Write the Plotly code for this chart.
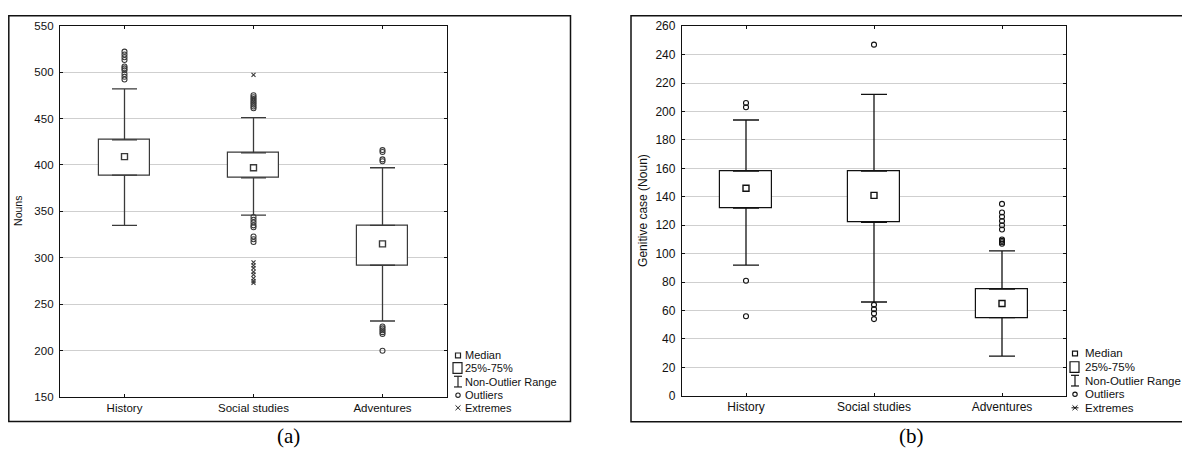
import plotly.graph_objects as go

W, H = 1190, 465
OFF = 8  # page body margin offset of the plot div

categories = ["History", "Social studies", "Adventures"]

# Panel (a): Nouns
a_q1 = [389, 386, 292]
a_median = [409, 397, 315]
a_q3 = [427, 413, 335]
a_low = [335, 346, 232]
a_high = [482, 451, 397]
a_outliers = {
    "History": [492, 495, 498, 502, 504, 506, 513, 516, 519, 522],
    "Social studies": [461, 463, 465, 467, 469, 471, 473, 475,
                       344, 341, 338, 335, 333, 323, 320, 317],
    "Adventures": [404, 406, 414, 416, 218, 220, 222, 224, 226, 200],
}
a_extremes = {
    "History": [],
    "Social studies": [497, 295, 292, 289, 285, 282, 278, 275, 273],
    "Adventures": [],
}

# Panel (b): Genitive case (Noun)
b_q1 = [132, 122, 55]
b_median = [146, 141, 65]
b_q3 = [158, 158, 75]
b_low = [92, 66, 28]
b_high = [194, 212, 102]
b_outliers = {
    "History": [203, 206, 81, 56],
    "Social studies": [247, 64, 61, 58, 54],
    "Adventures": [135, 129, 126, 123, 120, 117, 110, 109, 108, 107],
}
b_extremes = {"History": [], "Social studies": [], "Adventures": []}

a_ticks = list(range(150, 551, 50))
b_ticks = list(range(0, 261, 20))

FONT = "Liberation Sans"


def px(x):
    return (x - OFF) / W


def py(y):
    return 1 - (y - OFF) / H


fig = go.Figure()


def add_panel(xa, ya, q1, med, q3, low, high, outl, extr, col, capw):
    xs = categories
    fig.add_trace(go.Bar(
        x=xs, base=q1, y=[b - a for a, b in zip(q1, q3)], width=0.4,
        marker=dict(color="white", line=dict(color=col, width=1.2)),
        xaxis=xa, yaxis=ya, showlegend=False, hoverinfo="skip"))
    fig.add_trace(go.Scatter(
        x=xs, y=q3, mode="markers", marker=dict(size=1, opacity=0),
        error_y=dict(type="data", symmetric=False,
                     array=[h - t for h, t in zip(high, q3)],
                     arrayminus=[0, 0, 0], width=capw, thickness=1.3, color=col),
        xaxis=xa, yaxis=ya, showlegend=False, hoverinfo="skip"))
    fig.add_trace(go.Scatter(
        x=xs, y=q1, mode="markers", marker=dict(size=1, opacity=0),
        error_y=dict(type="data", symmetric=False, array=[0, 0, 0],
                     arrayminus=[b - l for b, l in zip(q1, low)],
                     width=capw, thickness=1.3, color=col),
        xaxis=xa, yaxis=ya, showlegend=False, hoverinfo="skip"))
    fig.add_trace(go.Scatter(
        x=xs, y=med, mode="markers",
        marker=dict(symbol="square-open", size=6, color=col, line=dict(width=1.4)),
        xaxis=xa, yaxis=ya, showlegend=False))
    ox, oy = [], []
    for c in categories:
        for v in outl[c]:
            ox.append(c)
            oy.append(v)
    fig.add_trace(go.Scatter(
        x=ox, y=oy, mode="markers",
        marker=dict(symbol="circle-open", size=5, color=col, line=dict(width=1.1)),
        xaxis=xa, yaxis=ya, showlegend=False))
    ex, ey = [], []
    for c in categories:
        for v in extr[c]:
            ex.append(c)
            ey.append(v)
    fig.add_trace(go.Scatter(
        x=ex, y=ey, mode="markers",
        marker=dict(symbol="x-thin-open", size=4, color=col, line=dict(width=1.1)),
        xaxis=xa, yaxis=ya, showlegend=False))


add_panel("x", "y", a_q1, a_median, a_q3, a_low, a_high, a_outliers, a_extremes, "#3a3a3a", 12.5)
add_panel("x2", "y2", b_q1, b_median, b_q3, b_low, b_high, b_outliers, b_extremes, "#111111", 13)

axis_common = dict(showline=True, linecolor="#111", linewidth=1.3, mirror="ticks",
                   ticks="inside", ticklen=3, tickcolor="#111", zeroline=False)

fig.update_layout(
    width=W, height=H, margin=dict(l=0, r=0, t=0, b=0),
    paper_bgcolor="white", plot_bgcolor="white", bargap=0,
    xaxis=dict(domain=[px(60), px(447)], type="category", anchor="y",
               tickfont=dict(family=FONT, size=11.5, color="#111"), showgrid=False,
               **axis_common),
    yaxis=dict(domain=[py(402), py(19)], range=[150, 550], tickvals=a_ticks, anchor="x",
               tickfont=dict(family=FONT, size=11.5, color="#111"), showgrid=True,
               gridcolor="#cfcfcf", gridwidth=1, ticklabelstandoff=3, **axis_common),
    xaxis2=dict(domain=[px(682), px(1066)], type="category", anchor="y2",
                tickfont=dict(family=FONT, size=12, color="#111"), showgrid=False,
                **axis_common),
    yaxis2=dict(domain=[py(400.7), py(19.5)], range=[0, 260], tickvals=b_ticks, anchor="x2",
                tickfont=dict(family=FONT, size=12, color="#111"), showgrid=True,
                gridcolor="#cfcfcf", gridwidth=1, ticklabelstandoff=3, **axis_common),
)

shapes = []
annotations = []


def text(t, x, y, size, family=FONT, angle=0, xanchor="center", color="#111"):
    annotations.append(dict(text=t, xref="paper", yref="paper", x=px(x), y=py(y),
                            xanchor=xanchor, yanchor="middle", textangle=angle,
                            showarrow=False, font=dict(family=family, size=size, color=color)))


# outer frames
shapes.append(dict(type="rect", xref="paper", yref="paper", x0=px(8.8), x1=px(570.5),
                   y0=py(427), y1=py(8.8), line=dict(color="#111", width=1.5)))
shapes.append(dict(type="rect", xref="paper", yref="paper", x0=px(631), x1=px(1196),
                   y0=py(427.5), y1=py(8.8), line=dict(color="#111", width=1.5)))

# axis titles
text("Nouns", 18, 210, 10.5, angle=-90)
text("Genitive case (Noun)", 643, 210, 12, angle=-90)

# panel labels
text("(a)", 288, 442, 21, family="Liberation Serif", color="black")
text("(b)", 911, 442, 21, family="Liberation Serif", color="black")


def legend(sx, tx, ys, col, fsize, extreme_star):
    labels = ["Median", "25%-75%", "Non-Outlier Range", "Outliers", "Extremes"]
    for lab, y in zip(labels, ys):
        text(lab, tx, y, fsize, xanchor="left")
    shapes.append(dict(type="rect", xref="paper", yref="paper", x0=px(sx - 2.5), x1=px(sx + 2.5),
                       y0=py(ys[0] + 2.5), y1=py(ys[0] - 2.5), line=dict(color=col, width=1.2)))
    shapes.append(dict(type="rect", xref="paper", yref="paper", x0=px(sx - 5), x1=px(sx + 4),
                       y0=py(ys[1] + 5.5), y1=py(ys[1] - 5.5), line=dict(color=col, width=1.2)))
    yt, yb = ys[2] - 5.5, ys[2] + 5.5
    for (x0, y0, x1, y1) in [(sx - 4, yt, sx + 4, yt), (sx - 4, yb, sx + 4, yb), (sx, yt, sx, yb)]:
        shapes.append(dict(type="line", xref="paper", yref="paper", x0=px(x0), y0=py(y0),
                           x1=px(x1), y1=py(y1), line=dict(color=col, width=1.2)))
    shapes.append(dict(type="circle", xref="paper", yref="paper", x0=px(sx - 2.2), x1=px(sx + 2.2),
                       y0=py(ys[3] + 2.2), y1=py(ys[3] - 2.2), line=dict(color=col, width=1.1)))
    y = ys[4]
    segs = [(sx - 2.5, y - 2.5, sx + 2.5, y + 2.5), (sx - 2.5, y + 2.5, sx + 2.5, y - 2.5)]
    if extreme_star:
        segs.append((sx - 3.5, y, sx + 3.5, y))
    for (x0, y0, x1, y1) in segs:
        shapes.append(dict(type="line", xref="paper", yref="paper", x0=px(x0), y0=py(y0),
                           x1=px(x1), y1=py(y1), line=dict(color=col, width=1)))


legend(458, 463, [359, 372, 386, 400, 413], "#222", 11, False)
legend(1075, 1083, [357, 371, 385, 399, 413], "#111", 11.5, True)

fig.update_layout(shapes=shapes, annotations=annotations)

fig.write_html("out.html")
